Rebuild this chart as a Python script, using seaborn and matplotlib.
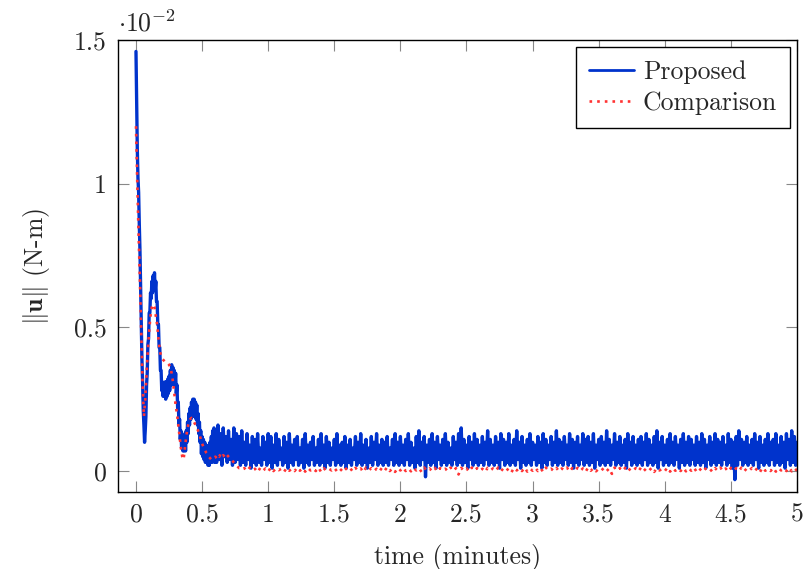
import numpy as np
import pandas as pd
import matplotlib
matplotlib.use("Agg")
import matplotlib.pyplot as plt
import seaborn as sns
from matplotlib.lines import Line2D

# ---------------- data (values in units of 1e-2 N-m) ----------------
blue_transient = [  # t = 0 .. 0.60, step 0.005
    1.46, 1.28, 1.12, 1.02, 0.97, 0.86, 0.77, 0.64, 0.53, 0.39,
    0.31, 0.21, 0.16, 0.10, 0.14, 0.19, 0.30, 0.34, 0.44, 0.46,
    0.55, 0.55, 0.62, 0.60, 0.66, 0.62, 0.68, 0.63, 0.69, 0.63,
    0.66, 0.59, 0.59, 0.51, 0.51, 0.43, 0.43, 0.35, 0.35, 0.28,
    0.31, 0.26, 0.30, 0.26, 0.31, 0.25, 0.31, 0.26, 0.32, 0.27,
    0.33, 0.28, 0.35, 0.30, 0.37, 0.31, 0.36, 0.30, 0.35, 0.30,
    0.34, 0.27, 0.30, 0.22, 0.24, 0.16, 0.18, 0.11, 0.14, 0.08,
    0.12, 0.07, 0.12, 0.07, 0.13, 0.07, 0.14, 0.10, 0.17, 0.13,
    0.20, 0.16, 0.22, 0.18, 0.24, 0.19, 0.25, 0.19, 0.25, 0.19,
    0.24, 0.18, 0.23, 0.16, 0.20, 0.13, 0.17, 0.10, 0.14, 0.06,
    0.12, 0.05, 0.11, 0.04, 0.10, 0.03, 0.09, 0.03, 0.08, 0.02,
    0.09, 0.02, 0.10, 0.03, 0.12, 0.03, 0.14, 0.04, 0.15, 0.03,
    0.13,
]
blue_steady = [  # t = 0.61 .. 5.00, step 0.01
    0.03, 0.16, 0.04, 0.13, 0.02, 0.15, 0.05, 0.12, 0.03, 0.14, 0.04, 0.11, 0.02, 0.15, 0.03, 0.13, 0.04, 0.12, 0.02, 0.14,
    0.03, 0.10, 0.02, 0.13, 0.04, 0.09, 0.01, 0.12, 0.03, 0.11, 0.02, 0.13, 0.03, 0.08, 0.02, 0.12, 0.04, 0.10, 0.02, 0.13,
    0.03, 0.12, 0.01, 0.09, 0.03, 0.13, 0.02, 0.11, 0.04, 0.08, 0.02, 0.12, 0.03, 0.10, 0.01, 0.13, 0.03, 0.09, 0.02, 0.11,
    0.04, 0.12, 0.02, 0.08, 0.03, 0.11, 0.01, 0.13, 0.03, 0.09, 0.02, 0.10, 0.04, 0.12, 0.02, 0.08, 0.03, 0.11, 0.02, 0.13,
    0.03, 0.09, 0.01, 0.12, 0.03, 0.10, 0.02, 0.08, 0.04, 0.11, 0.02, 0.13, 0.03, 0.09, 0.02, 0.10, 0.03, 0.12, 0.01, 0.09,
    0.03, 0.11, 0.02, 0.08, 0.04, 0.12, 0.02, 0.10, 0.03, 0.13, 0.02, 0.09, 0.03, 0.11, 0.01, 0.08, 0.03, 0.12, 0.02, 0.10,
    0.04, 0.13, 0.02, 0.09, 0.03, 0.11, 0.02, 0.10, 0.03, 0.12, 0.02, 0.08, 0.04, 0.11, 0.02, 0.13, 0.03, 0.10, 0.02, 0.12,
    0.03, 0.09, 0.02, 0.11, 0.04, 0.13, 0.02, 0.10, 0.03, 0.08, 0.01, 0.12, 0.03, 0.14, 0.02, 0.10, 0.04, 0.12, -0.02, 0.09,
    0.03, 0.11, 0.02, 0.13, 0.03, 0.10, 0.01, 0.12, 0.04, 0.09, 0.02, 0.11, 0.03, 0.13, 0.02, 0.10, 0.03, 0.08, 0.02, 0.12,
    0.04, 0.10, 0.02, 0.13, 0.03, 0.15, 0.02, 0.11, 0.03, 0.09, 0.01, 0.12, 0.04, 0.10, 0.02, 0.13, 0.03, 0.11, 0.02, 0.09,
    0.03, 0.12, 0.02, 0.10, 0.04, 0.14, 0.02, 0.11, 0.03, 0.09, 0.02, 0.12, 0.03, 0.10, 0.01, 0.13, 0.04, 0.11, 0.02, 0.10,
    0.03, 0.13, 0.02, 0.09, 0.03, 0.11, 0.02, 0.14, 0.04, 0.10, 0.01, 0.12, 0.03, 0.09, 0.02, 0.11, 0.03, 0.13, 0.02, 0.10,
    0.04, 0.09, 0.02, 0.12, 0.03, 0.10, 0.01, 0.13, 0.03, 0.11, 0.02, 0.09, 0.04, 0.12, 0.02, 0.10, 0.03, 0.14, 0.02, 0.11,
    0.03, 0.10, 0.02, 0.12, 0.04, 0.09, 0.02, 0.13, 0.03, 0.11, 0.01, 0.10, 0.03, 0.12, 0.02, 0.09, 0.04, 0.13, 0.02, 0.11,
    0.03, 0.12, 0.02, 0.10, 0.03, 0.13, 0.01, 0.09, 0.04, 0.11, 0.02, 0.12, 0.03, 0.10, 0.02, 0.14, 0.03, 0.11, 0.02, 0.09,
    0.04, 0.13, 0.02, 0.10, 0.03, 0.12, 0.02, 0.09, 0.03, 0.11, 0.01, 0.13, 0.04, 0.10, 0.02, 0.12, 0.03, 0.09, 0.02, 0.11,
    0.03, 0.12, 0.02, 0.10, 0.04, 0.13, 0.02, 0.11, 0.03, 0.09, 0.02, 0.12, 0.03, 0.14, 0.01, 0.10, 0.04, 0.12, 0.02, 0.09,
    0.03, 0.11, 0.02, 0.13, 0.03, 0.10, 0.02, 0.12, 0.04, 0.09, 0.01, 0.11, 0.03, 0.13, 0.02, 0.10, 0.03, 0.12, 0.02, 0.11,
    0.04, 0.09, 0.02, 0.12, 0.03, 0.10, 0.02, 0.13, 0.03, 0.11, 0.01, 0.09, 0.04, 0.12, 0.02, 0.10, 0.03, 0.13, 0.02, 0.11,
    0.03, 0.10, 0.02, 0.12, 0.04, 0.09, 0.02, 0.13, 0.03, 0.11, 0.01, 0.10, -0.03, 0.12, 0.02, 0.14, 0.04, 0.11, 0.02, 0.10,
    0.03, 0.12, 0.02, 0.09, 0.03, 0.11, 0.02, 0.13, 0.04, 0.10, 0.01, 0.12, 0.03, 0.09, 0.02, 0.11, 0.03, 0.13, 0.02, 0.10,
    0.04, 0.11, 0.02, 0.13, 0.03, 0.09, 0.02, 0.12, 0.03, 0.10, 0.01, 0.13, 0.04, 0.11, 0.02, 0.14, 0.03, 0.12, 0.02, 0.10,
]
red_transient = [  # t = 0 .. 0.80, step 0.01
    1.20, 1.00, 0.82, 0.66, 0.48, 0.30, 0.19, 0.25, 0.34, 0.42,
    0.49, 0.54, 0.57, 0.58, 0.57, 0.54, 0.51, 0.46, 0.42, 0.40,
    0.39, 0.385, 0.38, 0.38, 0.375, 0.37, 0.36, 0.34, 0.31, 0.27,
    0.23, 0.20, 0.16, 0.12, 0.08, 0.05, 0.04, 0.08, 0.12, 0.15,
    0.17, 0.18, 0.185, 0.18, 0.17, 0.16, 0.15, 0.14, 0.13, 0.11,
    0.095, 0.085, 0.075, 0.065, 0.06, 0.05, 0.045, 0.04, 0.04, 0.045,
    0.05,
    0.045, 0.055, 0.05, 0.06, 0.05, 0.055, 0.05, 0.06, 0.055, 0.05,
    0.045, 0.04, 0.035, 0.03, 0.025, 0.02, 0.015, 0.01, 0.01, 0.005,
]
red_steady = [  # t = 0.82 .. 5.00, step 0.02
    0.010, 0.000, 0.012, 0.002, 0.008, -0.004, 0.011, 0.001, 0.009, -0.002, 0.012, 0.000, 0.010, 0.003, 0.008, -0.003, 0.011, 0.001, 0.009, 0.000, 0.012,
    0.001, 0.010, -0.002, 0.011, 0.002, 0.009, 0.000, 0.012, -0.003, 0.010, 0.001, 0.008, 0.002, 0.011, -0.001, 0.009, 0.000, 0.012, 0.002, 0.010, -0.002,
    0.011, 0.001, 0.009, -0.004, 0.012, 0.002, 0.010, 0.000, 0.008, -0.002, 0.011, 0.001, 0.013, 0.000, 0.009, -0.003, 0.010, 0.002, 0.012, 0.000, 0.009,
    -0.001, 0.011, 0.002, 0.010, -0.003, 0.012, 0.001, 0.009, 0.000, 0.011, -0.002, 0.010, 0.002, 0.008, -0.001, 0.012, 0.000, 0.010, -0.012, 0.011, 0.001,
    0.009, -0.002, 0.012, 0.001, 0.010, 0.000, 0.008, -0.003, 0.011, 0.002, 0.009, 0.000, 0.012, -0.001, 0.010, 0.001, 0.009, -0.004, 0.011, 0.002, 0.010,
    0.000, 0.012, -0.002, 0.009, 0.001, 0.011, 0.000, 0.010, -0.003, 0.012, 0.002, 0.008, 0.000, 0.011, -0.001, 0.009, 0.002, 0.012, -0.002, 0.010, 0.001,
    0.011, 0.000, 0.009, -0.003, 0.012, 0.001, 0.010, -0.001, 0.008, 0.002, 0.011, 0.000, 0.009, -0.010, 0.012, 0.001, 0.010, 0.000, 0.011, -0.002, 0.009,
    0.002, 0.010, -0.001, 0.012, 0.000, 0.009, 0.001, 0.011, -0.003, 0.010, 0.002, 0.008, 0.000, 0.012, -0.002, 0.010, 0.001, 0.009, 0.000, 0.011, -0.001,
    0.010, 0.001, 0.012, -0.002, 0.009, 0.000, 0.011, 0.002, 0.008, -0.003, 0.010, 0.001, 0.012, 0.000, 0.009, -0.002, 0.011, 0.001, 0.010, 0.000, 0.012,
    -0.001, 0.009, 0.002, 0.011, 0.000, 0.010, -0.003, 0.012, 0.001, 0.008, 0.000, 0.011, -0.002, 0.010, 0.002, 0.009, 0.000, 0.012, -0.001, 0.010, 0.001,
]

x_ticks = [0, 0.5, 1, 1.5, 2, 2.5, 3, 3.5, 4, 4.5, 5]
x_tick_labels = ["0", "0.5", "1", "1.5", "2", "2.5", "3", "3.5", "4", "4.5", "5"]
y_ticks = [0, 0.5, 1, 1.5]
y_tick_labels = ["0", "0.5", "1", "1.5"]
series_names = ["Proposed", "Comparison"]

# time grids
t_blue = np.concatenate([0.005 * np.arange(len(blue_transient)),
                         0.61 + 0.01 * np.arange(len(blue_steady))])
u_blue = np.array(blue_transient + blue_steady)
t_red = np.concatenate([0.01 * np.arange(len(red_transient)),
                        0.82 + 0.02 * np.arange(len(red_steady))])
u_red = np.array(red_transient + red_steady)

df_blue = pd.DataFrame({"t": t_blue, "u": u_blue})
df_red = pd.DataFrame({"t": t_red, "u": u_red})

# ---------------- style ----------------
sns.set_style("ticks")
plt.rcParams["font.family"] = ["cmr10", "DejaVu Serif"]
plt.rcParams["mathtext.fontset"] = "cm"
plt.rcParams["axes.formatter.use_mathtext"] = True
plt.rcParams["axes.unicode_minus"] = False

FS = 18.5
BLUE = "#0033cc"
RED = "#ff3333"
RED_DOTS = (0, (1, 1.9))

fig = plt.figure(figsize=(8.07, 5.69), dpi=100)
ax = fig.add_axes([118 / 807, 1 - 492 / 569, (797 - 118) / 807, (492 - 40) / 569])

sns.lineplot(data=df_blue, x="t", y="u", ax=ax, estimator=None, sort=False,
             color=BLUE, linewidth=2.4)
sns.lineplot(data=df_red, x="t", y="u", ax=ax, estimator=None, sort=False,
             color=RED, linewidth=1.9, linestyle=RED_DOTS)

ax.set_xlim(-0.136, 5.0)
ax.set_ylim(-0.073, 1.5)
ax.set_xticks(x_ticks)
ax.set_xticklabels(x_tick_labels)
ax.set_yticks(y_ticks)
ax.set_yticklabels(y_tick_labels)

ax.tick_params(axis="both", which="major", direction="in", length=8,
               width=0.8, color="#888888", labelsize=FS,
               top=True, right=True)
ax.tick_params(axis="x", pad=8)
ax.tick_params(axis="y", pad=8)
for s in ax.spines.values():
    s.set_color("black")
    s.set_linewidth(1.0)

ax.set_xlabel("time (minutes)", fontsize=FS, labelpad=12)
ax.set_ylabel(r"$\|\mathbf{u}\|$ (N-m)", fontsize=FS, labelpad=16)

ax.text(0.0, 1.008, r"$\cdot 10^{-2}$", transform=ax.transAxes,
        ha="left", va="bottom", fontsize=FS)

handles = [Line2D([], [], color=BLUE, linewidth=2.0),
           Line2D([], [], color=RED, linewidth=1.9, linestyle=RED_DOTS)]
leg = ax.legend(handles, series_names, loc="upper right", fontsize=FS,
                frameon=True, fancybox=False, framealpha=1.0,
                edgecolor="black", handlelength=1.75, handletextpad=0.35,
                borderpad=0.5, labelspacing=0.3, borderaxespad=0.28)
leg.get_frame().set_linewidth(1.0)

fig.savefig("out.png", dpi=100)
